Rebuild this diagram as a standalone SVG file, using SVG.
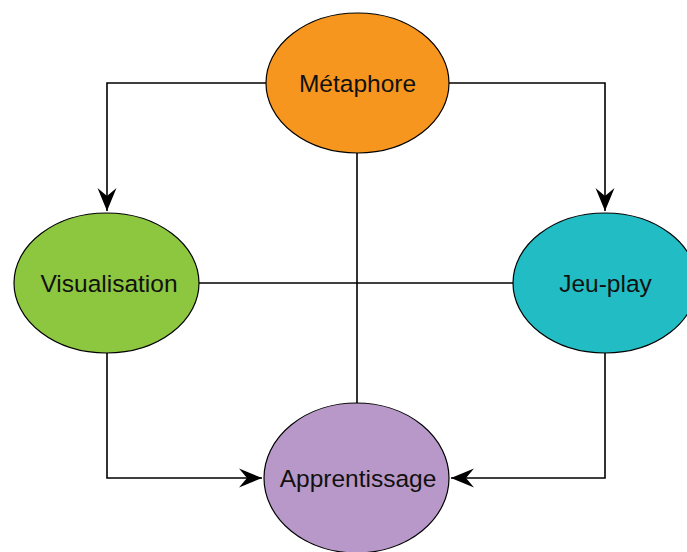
<svg xmlns="http://www.w3.org/2000/svg" width="687" height="552" viewBox="0 0 687 552">
<style>
.node{stroke:#000;stroke-width:1.2}
.lbl{font-family:"Liberation Sans",Arial,sans-serif;font-size:24.5px;fill:#111;text-anchor:middle}
.edge{fill:none;stroke:#000;stroke-width:1.6}
</style>
<defs>
<marker id="arr" viewBox="0 0 24 20" refX="23" refY="10" markerWidth="24" markerHeight="20" markerUnits="userSpaceOnUse" orient="auto">
<path d="M23,10 L0,0.5 L8,10 L0,19.5 Z" fill="#000"/>
</marker>
</defs>
<rect width="687" height="552" fill="#fff"/>
<g id="connectors">
<path class="edge" d="M266,83 H107 V211" marker-end="url(#arr)"/>
<path class="edge" d="M449,83 H605 V211" marker-end="url(#arr)"/>
<path class="edge" d="M357,153 V403"/>
<path class="edge" d="M199,283 H513"/>
<path class="edge" d="M107,353 V478 H262" marker-end="url(#arr)"/>
<path class="edge" d="M605,353 V478 H451" marker-end="url(#arr)"/>
</g>
<g id="metaphore">
<ellipse class="node" cx="357.5" cy="83" rx="91.5" ry="70" fill="#F7961E"/>
<text class="lbl" x="357.5" y="92">Métaphore</text>
</g>
<g id="visualisation">
<ellipse class="node" cx="106.5" cy="283" rx="92.5" ry="70" fill="#8DC63F"/>
<text class="lbl" x="109" y="292">Visualisation</text>
</g>
<g id="jeu-play">
<ellipse class="node" cx="605" cy="283" rx="92" ry="70" fill="#22BCC4"/>
<text class="lbl" x="605.5" y="292">Jeu-play</text>
</g>
<g id="apprentissage">
<ellipse class="node" cx="356.5" cy="478" rx="92.5" ry="75" fill="#B898C8"/>
<text class="lbl" x="358" y="487">Apprentissage</text>
</g>
</svg>
